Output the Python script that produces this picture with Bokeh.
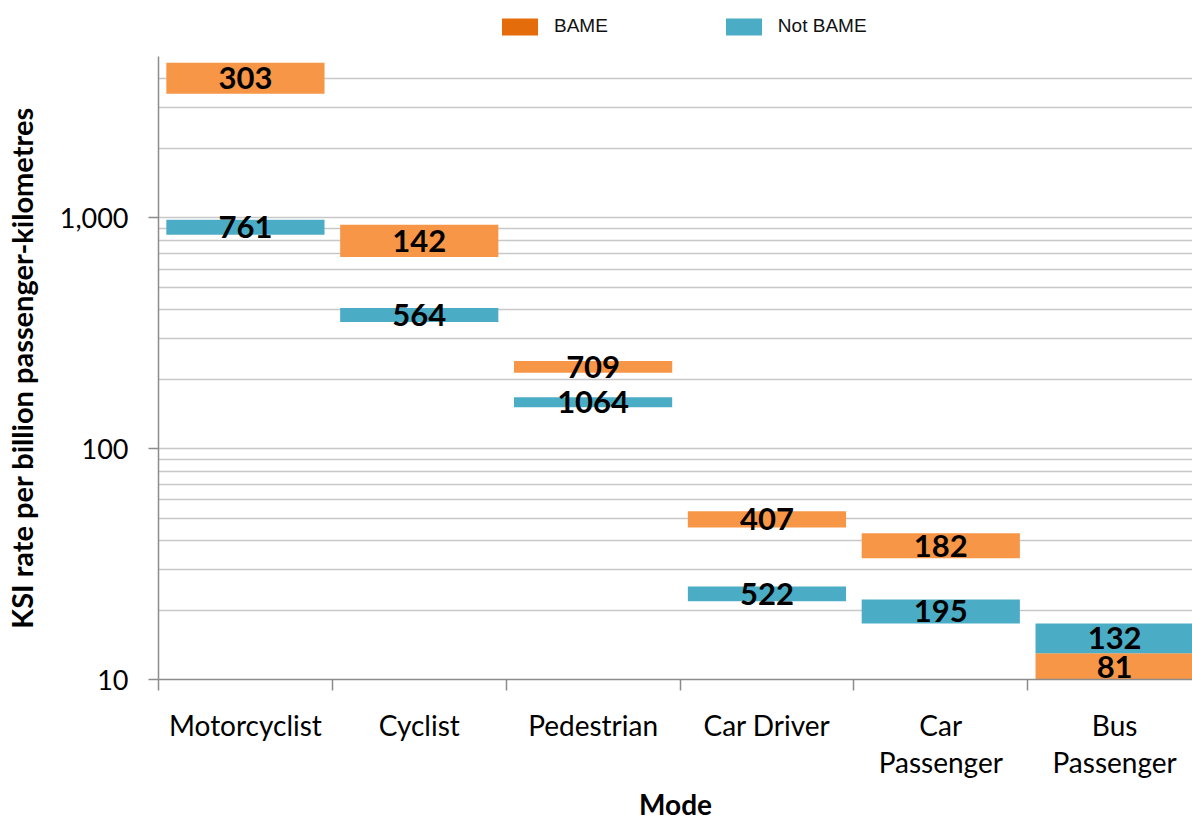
import numpy as np
from bokeh.plotting import figure
from bokeh.layouts import column
from bokeh.models import (Range1d, FixedTicker, NumeralTickFormatter, Legend,
                          LegendItem, ColumnDataSource)
from bokeh.core.properties import value
from bokeh.embed import file_html
from bokeh.resources import INLINE

# ---------------- data ----------------
modes = ["Motorcyclist", "Cyclist", "Pedestrian", "Car Driver", "Car Passenger", "Bus Passenger"]
mode_labels = ["Motorcyclist", "Cyclist", "Pedestrian", "Car Driver", "Car\nPassenger", "Bus\nPassenger"]

# KSI rate range (low / high) per billion passenger-km and casualty counts
bame_low = [3450, 677, 213, 45.6, 33.5, 9.9]
bame_high = [4700, 933, 240, 53.6, 43.0, 13.0]
bame_n = [303, 142, 709, 407, 182, 81]

notbame_low = [844, 354, 151, 21.8, 17.5, 13.0]
notbame_high = [980, 407, 167, 25.3, 22.2, 17.5]
notbame_n = [761, 564, 1064, 522, 195, 132]

series_names = ["BAME", "Not BAME"]
bar_colors = ["#F79646", "#4BACC6"]
legend_colors = ["#E46C0A", "#4BACC6"]

y_major = [10, 100, 1000]
y_minor = [m * 10 ** e for e in (1, 2, 3) for m in range(2, 10) if m * 10 ** e <= 5000]

FONT = "Lato"
xs = np.arange(len(modes)) + 0.5

src_b = ColumnDataSource(dict(x=xs, low=bame_low, high=bame_high,
                              mid=np.sqrt(np.array(bame_low) * np.array(bame_high)),
                              n=[str(v) for v in bame_n]))
src_n = ColumnDataSource(dict(x=xs, low=notbame_low, high=notbame_high,
                              mid=np.sqrt(np.array(notbame_low) * np.array(notbame_high)),
                              n=[str(v) for v in notbame_n]))
sources = [src_b, src_n]

# ---------------- legend strip ----------------
pl = figure(width=1192, height=56, output_backend="svg", toolbar_location=None,
            x_axis_location=None, y_axis_location=None, min_border=0)
pl.outline_line_color = None
pl.xgrid.visible = False
pl.ygrid.visible = False
leg_items = []
for name, src, col in zip(series_names, sources, legend_colors):
    r = pl.vbar(x="x", bottom="low", top="high", width=0, source=src,
                fill_color=col, line_color=None)
    leg_items.append(LegendItem(label=name, renderers=[r]))
legend = Legend(items=leg_items, orientation="horizontal", location=(339, 19),
                glyph_width=45, glyph_height=21, label_standoff=12, spacing=113,
                label_text_font="Liberation Sans", label_text_font_size="19px",
                label_text_color="#111111", padding=0, margin=0,
                border_line_color=None, background_fill_alpha=0)
pl.add_layout(legend, "center")

# ---------------- main chart ----------------
p = figure(width=1192, height=767, output_backend="svg", toolbar_location=None,
           y_axis_type="log", x_range=Range1d(0, 5.948), y_range=Range1d(10, 5000),
           min_border_left=157, min_border_right=0, min_border_top=0, min_border_bottom=144)
p.outline_line_color = None
p.background_fill_color = "white"
p.border_fill_color = "white"

for src, col in zip(sources, bar_colors):
    p.vbar(x="x", bottom="low", top="high", width=0.91, source=src,
           fill_color=col, line_color=None)

for src in sources:
    p.text(x="x", y="mid", text="n", source=src, text_align="center",
           text_baseline="middle", text_font=value(FONT), text_font_style="bold",
           text_font_size="31px", text_color="black")

# grid
p.xgrid.grid_line_color = None
p.ygrid.ticker = FixedTicker(ticks=y_major, minor_ticks=y_minor)
p.ygrid.grid_line_color = "#C8C8C8"
p.ygrid.grid_line_width = 1.5
p.ygrid.minor_grid_line_color = "#C8C8C8"
p.ygrid.minor_grid_line_width = 1.5

# y axis
ya = p.yaxis[0]
ya.ticker = FixedTicker(ticks=y_major, minor_ticks=y_minor)
ya.formatter = NumeralTickFormatter(format="0,0")
ya.axis_line_color = "#8C8C8C"
ya.axis_line_width = 1.5
ya.major_tick_line_color = "#8C8C8C"
ya.major_tick_line_width = 1.5
ya.major_tick_out = 10
ya.major_tick_in = 0
ya.minor_tick_line_color = None
ya.major_label_standoff = 20
ya.major_label_text_font = FONT
ya.major_label_text_font_size = "27px"
ya.major_label_text_color = "black"
ya.axis_label = "KSI rate per billion passenger-kilometres"
ya.axis_label_text_font = FONT
ya.axis_label_text_font_style = "bold"
ya.axis_label_text_font_size = "29px"
ya.axis_label_text_color = "black"
ya.axis_label_standoff = 18

# x axis: labels at category centres, tick marks at category boundaries
xa = p.xaxis[0]
xa.ticker = FixedTicker(ticks=list(xs), minor_ticks=list(range(len(modes) + 1)))
xa.major_label_overrides = {float(x): lab for x, lab in zip(xs, mode_labels)}
xa.axis_line_color = "#8C8C8C"
xa.axis_line_width = 1.5
xa.major_tick_line_color = None
xa.major_tick_out = 0
xa.major_tick_in = 0
xa.minor_tick_line_color = "#8C8C8C"
xa.minor_tick_line_width = 1.5
xa.minor_tick_out = 11
xa.minor_tick_in = 0
xa.major_label_standoff = 17
xa.major_label_text_font = FONT
xa.major_label_text_font_size = "28px"
xa.major_label_text_color = "black"
xa.major_label_text_line_height = 1.1
xa.axis_label = "Mode"
xa.axis_label_text_font = FONT
xa.axis_label_text_font_style = "bold"
xa.axis_label_text_font_size = "28px"
xa.axis_label_text_color = "black"
xa.axis_label_standoff = 5

layout = column(pl, p, spacing=0)
open("out.html", "w").write(file_html(layout, INLINE))
